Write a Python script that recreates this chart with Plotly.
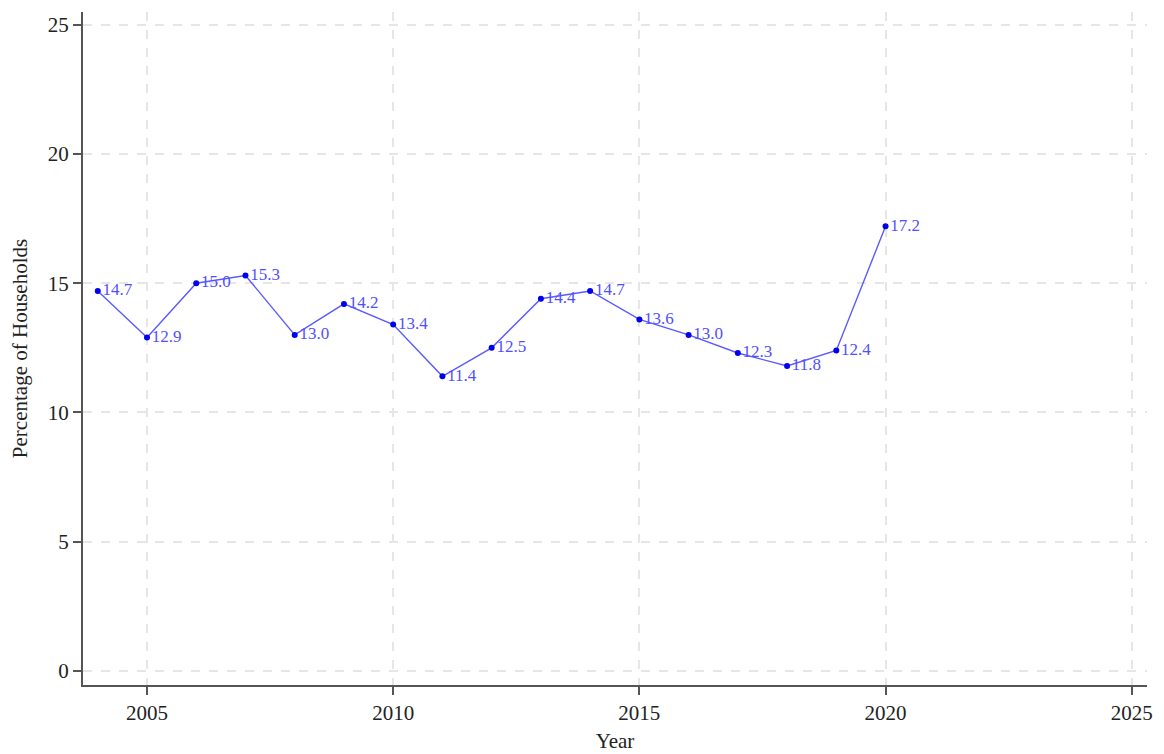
import plotly.graph_objects as go

years = list(range(2004, 2021))
values = [14.7, 12.9, 15.0, 15.3, 13.0, 14.2, 13.4, 11.4, 12.5, 14.4, 14.7, 13.6, 13.0, 12.3, 11.8, 12.4, 17.2]
labels = [f"{v:.1f}" for v in values]
x_ticks = [2005, 2010, 2015, 2020, 2025]
y_ticks = [0, 5, 10, 15, 20, 25]

font = "Liberation Serif, Times New Roman, serif"

fig = go.Figure()
fig.add_trace(go.Scatter(
    x=years, y=values, mode="lines+markers+text",
    text=labels, textposition="middle right",
    textfont=dict(family=font, size=17, color="#5050ff"),
    line=dict(color="#5a5aff", width=1.4),
    marker=dict(color="#0000ee", size=6),
    showlegend=False,
    cliponaxis=False,
))

fig.update_layout(
    width=1156, height=746,
    margin=dict(l=75, r=17, t=4, b=69),
    paper_bgcolor="white", plot_bgcolor="white",
    font=dict(family=font, size=21, color="#222"),
)
fig.update_xaxes(
    range=[2003.7, 2025.31], tickvals=x_ticks,
    showline=True, linecolor="#555", linewidth=2,
    ticks="outside", ticklen=8, tickcolor="#555", tickwidth=1.5,
    showgrid=True, gridcolor="#e6e6e6", griddash="dash", gridwidth=1.5,
    zeroline=False,
    title=dict(text="Year", font=dict(size=21), standoff=9),
    tickfont=dict(size=21),
)
fig.update_yaxes(
    range=[-0.54, 25.49], tickvals=y_ticks,
    showline=True, linecolor="#555", linewidth=2,
    ticks="outside", ticklen=8, tickcolor="#555", tickwidth=1.5,
    showgrid=True, gridcolor="#e6e6e6", griddash="dash", gridwidth=1.5,
    zeroline=False,
    title=dict(text="Percentage of Households", font=dict(size=21), standoff=14),
    tickfont=dict(size=21),
)

fig.write_html("out.html")
